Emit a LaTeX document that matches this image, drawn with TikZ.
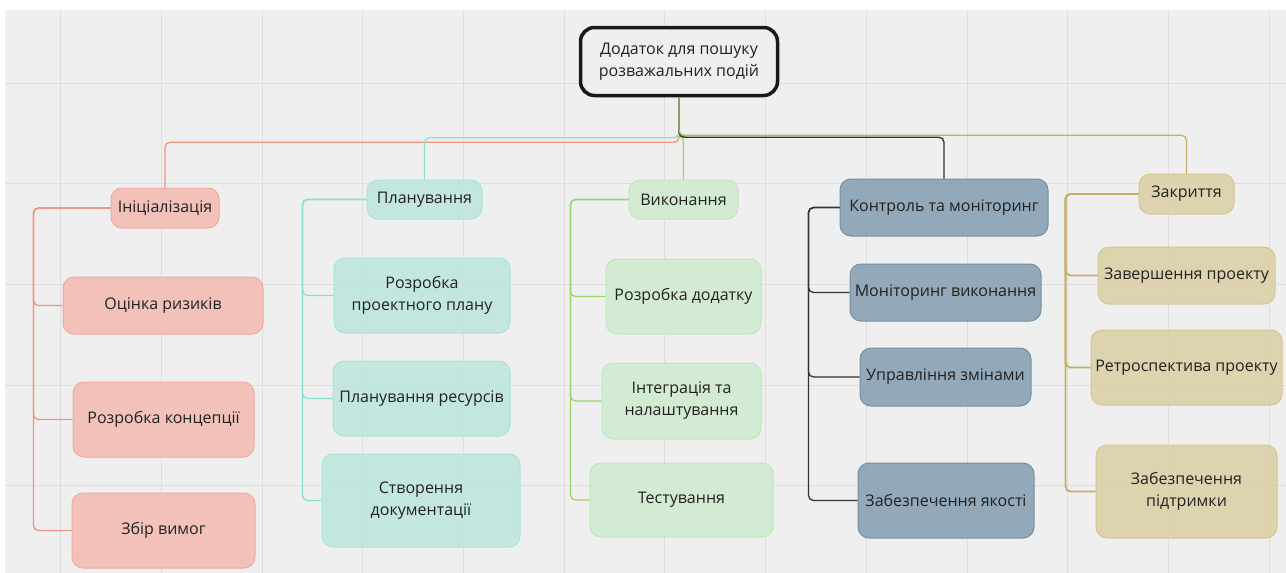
\documentclass[tikz,border=0pt]{standalone}
\usepackage{fontspec}
\setmainfont{Open Sans}
\usepackage{tikz}
\usetikzlibrary{calc}

\definecolor{bgcol}{HTML}{EFEFEF}
\definecolor{gridcol}{HTML}{DEDEDE}
\definecolor{txtcol}{HTML}{222222}
\definecolor{redfill}{HTML}{F2BEB7}
\definecolor{reddraw}{HTML}{F2AAA0}
\definecolor{redline}{HTML}{F09484}
\definecolor{tealfill}{HTML}{C0E6DE}
\definecolor{tealdraw}{HTML}{ABE3D9}
\definecolor{tealline}{HTML}{8EDDD2}
\definecolor{greenfill}{HTML}{D1EBD1}
\definecolor{greendraw}{HTML}{BDE8BC}
\definecolor{greenline}{HTML}{9BD66B}
\definecolor{slatefill}{HTML}{8DA3B4}
\definecolor{slatedraw}{HTML}{7490A3}
\definecolor{slateline}{HTML}{333333}
\definecolor{tanfill}{HTML}{DCD1AB}
\definecolor{tandraw}{HTML}{D5C88E}
\definecolor{tanline}{HTML}{C6AE66}

\tikzset{
    box/.style={rounded corners=11pt, line width=1pt, align=center, inner sep=2pt,
        text=txtcol, font=\fontsize{16}{22}\selectfont, fill opacity=0.93, text opacity=1},
    redbox/.style={box, fill=redfill, draw=reddraw},
    tealbox/.style={box, fill=tealfill, draw=tealdraw},
    greenbox/.style={box, fill=greenfill, draw=greendraw},
    slatebox/.style={box, fill=slatefill, draw=slatedraw},
    tanbox/.style={box, fill=tanfill, draw=tandraw},
    link/.style={rounded corners=5pt, line width=1.3pt},
}

\begin{document}
\begin{tikzpicture}[x=1pt, y=-1pt]
    \useasboundingbox (0,0) rectangle (1286,573);
    \fill[white] (0,0) rectangle (1286,573);
    \fill[bgcol] (5,10) rectangle (1286,573);

    % grid
    \foreach \i in {0,...,12}
        \draw[gridcol, line width=1pt] (60.7+100.7*\i,10) -- ++(0,563);
    \foreach \j in {0,...,4}
        \draw[gridcol, line width=1pt] (5,83+100.7*\j) -- (1286,83+100.7*\j);

    \node[box, fill=bgcol, fill opacity=1, draw=black!90, line width=3.5pt, rounded corners=14pt,
        minimum width=197pt, minimum height=68pt] (root) at (679,61.5) {Додаток для пошуку\\розважальних подій};

    % first level
    \node[redbox, minimum width=108pt, minimum height=40pt] (init) at (165,208) {Ініціалізація};
    \node[tealbox, minimum width=115pt, minimum height=39pt] (plan) at (424.5,199.5) {Планування};
    \node[greenbox, minimum width=109pt, minimum height=39pt] (exec) at (683.5,199.5) {Виконання};
    \node[slatebox, minimum width=208pt, minimum height=57pt] (ctrl) at (944,207.5) {Контроль та моніторинг};
    \node[tanbox, minimum width=95pt, minimum height=40pt] (close) at (1186.5,194) {Закриття};

    % second level
    \node[redbox, minimum width=200pt, minimum height=57pt] (risk) at (163,305.5) {Оцінка ризиків};
    \node[redbox, minimum width=181pt, minimum height=75pt] (concept) at (163.5,419.5) {Розробка концепції};
    \node[redbox, minimum width=183pt, minimum height=75pt] (reqs) at (163.5,530.5) {Збір вимог};

    \node[tealbox, minimum width=176pt, minimum height=75pt] (pplan) at (422,295.5) {Розробка\\проектного плану};
    \node[tealbox, minimum width=177pt, minimum height=75pt] (res) at (421.5,398.5) {Планування ресурсів};
    \node[tealbox, minimum width=198pt, minimum height=93pt] (docs) at (421,500.5) {Створення\\документації};

    \node[greenbox, minimum width=155pt, minimum height=75pt] (dev) at (683.5,296.5) {Розробка додатку};
    \node[greenbox, minimum width=159pt, minimum height=76pt] (integ) at (681.5,401) {Інтеграція та\\налаштування};
    \node[greenbox, minimum width=183pt, minimum height=74pt] (test) at (681.5,500) {Тестування};

    \node[slatebox, minimum width=191pt, minimum height=57pt] (mon) at (945.5,292.5) {Моніторинг виконання};
    \node[slatebox, minimum width=171pt, minimum height=58pt] (chg) at (945.5,377) {Управління змінами};
    \node[slatebox, minimum width=176pt, minimum height=75pt] (qa) at (946,500.5) {Забезпечення якості};

    \node[tanbox, minimum width=177pt, minimum height=57pt] (fin) at (1186.5,275.5) {Завершення проекту};
    \node[tanbox, minimum width=191pt, minimum height=75pt] (retro) at (1186.5,367.5) {Ретроспектива проекту};
    \node[tanbox, minimum width=181pt, minimum height=93pt] (supp) at (1186.5,491.5) {Забезпечення\\підтримки};

    % links from the root
    \draw[link, redline] (root.south) -- ++(0,45) -| (init.north);
    \draw[link, tealline] (root.south) -- ++(0,40.5) -| (plan.north);
    \draw[link, greenline] (root.south) -- ++(0,39) -| (exec.north);
    \draw[link, slateline] (root.south) -- ++(0,40) -| (ctrl.north);
    \draw[link, tanline] (root.south) -- ++(0,38) -| (close.north);

    % links to the tasks
    \draw[link, redline] (init.west) -- ++(-77,0) |- (risk.west);
    \draw[link, redline] (init.west) -- ++(-77,0) |- (concept.west);
    \draw[link, redline] (init.west) -- ++(-77,0) |- (reqs.west);

    \draw[link, tealline] (plan.west) -- ++(-64,0) |- (pplan.west);
    \draw[link, tealline] (plan.west) -- ++(-64,0) |- (res.west);
    \draw[link, tealline] (plan.west) -- ++(-64,0) |- (docs.west);

    \draw[link, greenline] (exec.west) -- ++(-58,0) |- (dev.west);
    \draw[link, greenline] (exec.west) -- ++(-58,0) |- (integ.west);
    \draw[link, greenline] (exec.west) -- ++(-58,0) |- (test.west);

    \draw[link, slateline] (ctrl.west) -- ++(-31,0) |- (mon.west);
    \draw[link, slateline] (ctrl.west) -- ++(-31,0) |- (chg.west);
    \draw[link, slateline] (ctrl.west) -- ++(-31,0) |- (qa.west);

    \draw[link, tanline, line width=1.8pt] (close.west) -- ++(-73,0) |- (fin.west);
    \draw[link, tanline, line width=1.8pt] (close.west) -- ++(-73,0) |- (retro.west);
    \draw[link, tanline, line width=1.8pt] (close.west) -- ++(-73,0) |- (supp.west);
\end{tikzpicture}
\end{document}
